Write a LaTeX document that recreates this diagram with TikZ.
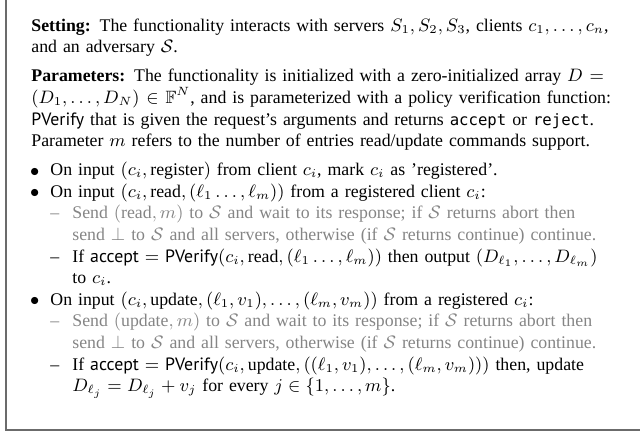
\documentclass[tikz,border=0pt]{standalone}
\usepackage{amsmath}
\usepackage{amssymb}
\usepackage{fontspec}
\setmainfont{Liberation Serif}
\setsansfont{PT Sans}
\setmonofont{DejaVu Sans Mono}[Scale=0.88]
\newcommand{\bul}{\par\noindent\hangindent=9.5pt\hangafter=1\makebox[9.5pt][l]{\hspace{-0.6pt}\raisebox{-0.2pt}{$\bullet$}}\ignorespaces}
\newcommand{\das}{\par\noindent\hangindent=20.5pt\hangafter=1\hspace*{9.5pt}\makebox[11pt][l]{\textendash}\ignorespaces}
\definecolor{soft}{gray}{0.52}
\definecolor{frame}{gray}{0.42}
\tikzset{
  textbox/.style={inner sep=0pt, text width=295.5pt, anchor=north west,
    font=\fontsize{8.9}{10.8}\selectfont},
  framebox/.style={line width=1pt, draw=frame}
}
\begin{document}
\begin{tikzpicture}[x=1pt,y=1pt]
\useasboundingbox (0,0) rectangle (320,-215.5);
\clip (0,0) rectangle (320,-215.5);
\draw[framebox] (2.75,-214.75) rectangle (340,20);
\node[textbox] (body) at (15.5,-8.5) {%
\parindent=0pt\parskip=0pt\tolerance=9999\hbadness=10000\hfuzz=20pt\hyphenpenalty=10000\exhyphenpenalty=10000
\rule{0pt}{7pt}\textbf{Setting:} The functionality interacts with servers $S_1, S_2, S_3$, clients $c_1, \ldots, c_n$,\linebreak
and an adversary $\mathcal{S}$.\par
\vspace{3.7pt}
\textbf{Parameters:} The functionality is initialized with a zero-initialized array $D ={}$\linebreak
$(D_1, \ldots, D_N) \in \mathbb{F}^N$, and is parameterized with a policy verification function:\linebreak
\textsf{PVerify} that is given the request’s arguments and returns \texttt{accept} or \texttt{reject}.\linebreak
Parameter $m$ refers to the number of entries read/update commands support.\par
\vspace{3.7pt}
\bul On input $(c_i, \text{register})$ from client $c_i$, mark $c_i$ as ’registered’.
\bul On input $(c_i, \text{read}, (\ell_1 \ldots, \ell_m))$ from a registered client $c_i$:
\par{\color{soft}\das Send $(\mathrm{read}, m)$ to $\mathcal{S}$ and wait to its response; if $\mathcal{S}$ returns abort then\linebreak
send $\bot$ to $\mathcal{S}$ and all servers, otherwise (if $\mathcal{S}$ returns continue) continue.\par}
\das If \textsf{accept} $=$ \textsf{PVerify}$(c_i, \text{read}, (\ell_1 \ldots, \ell_m))$ then output $(D_{\ell_1}, \ldots, D_{\ell_m})$\linebreak
to $c_i$.
\bul On input $(c_i, \text{update}, (\ell_1, v_1), \ldots, (\ell_m, v_m))$ from a registered $c_i$:
\par{\color{soft}\das Send $(\mathrm{update}, m)$ to $\mathcal{S}$ and wait to its response; if $\mathcal{S}$ returns abort then\linebreak
send $\bot$ to $\mathcal{S}$ and all servers, otherwise (if $\mathcal{S}$ returns continue) continue.\par}
\das If \textsf{accept} $=$ \textsf{PVerify}$(c_i, \text{update}, ((\ell_1, v_1), \ldots, (\ell_m, v_m)))$ then, update\linebreak
$D_{\ell_j} = D_{\ell_j} + v_j$ for every $j \in \{1, \ldots, m\}$.\par
};
\end{tikzpicture}
\end{document}
